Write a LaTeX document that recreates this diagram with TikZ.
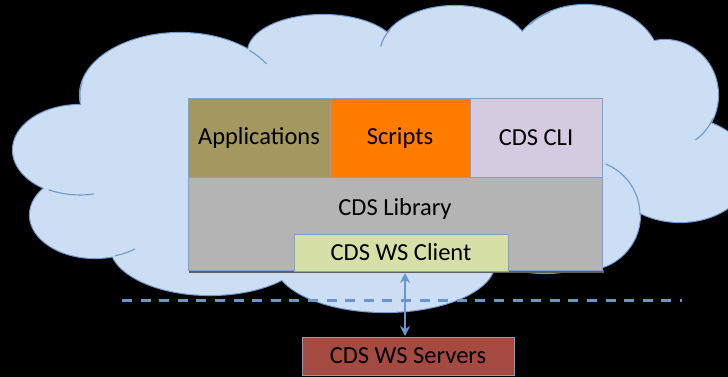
\documentclass[tikz,border=0pt]{standalone}
\usepackage{fontspec}
\setmainfont{Carlito}
\usetikzlibrary{arrows.meta,calc}
\definecolor{cloudfill}{RGB}{204,222,243}
\definecolor{cloudline}{RGB}{112,152,204}
\definecolor{boxline}{RGB}{125,160,205}
\definecolor{appcol}{RGB}{163,152,96}
\definecolor{scrcol}{RGB}{255,124,0}
\definecolor{clicol}{RGB}{213,203,225}
\definecolor{libcol}{RGB}{180,180,180}
\definecolor{wscol}{RGB}{214,223,166}
\definecolor{srvcol}{RGB}{164,74,64}
\definecolor{dashcol}{RGB}{105,150,210}
\definecolor{shadowcol}{RGB}{95,95,100}
\begin{document}
\begin{tikzpicture}[x=1pt,y=-1pt,
  box/.style={draw=boxline, line width=1pt, rectangle, inner sep=0pt, text=black, font=\fontsize{24.5}{28}\selectfont},
  link/.style={draw=dashcol, line width=2pt, {Stealth[length=10pt,width=10pt]}-{Stealth[length=10pt,width=10pt]}},
  innerarc/.style={draw=cloudline, line width=1.1pt}]
\fill[black] (0,0) rectangle (728,377);
\useasboundingbox (0,0) rectangle (728,377);
\begin{scope}
\clip (0,0) rectangle (728,377);
\def\cloudlist{370/165/270/95, 180/95/100/62, 323/52/75/37, 455/53/75/47, 585/65/75/60, 665/95/53/55, 680/170/70/52, 585/215/55/55, 545/235/70/38, 385/262/110/50, 210/245/100/50, 80/150/67/45, 95/215/65/43}
\foreach \cx/\cy/\a/\b in \cloudlist
  \draw[cloudline, line width=2.2pt] (\cx,\cy) ellipse [x radius=\a pt, y radius=\b pt];
\foreach \cx/\cy/\a/\b in \cloudlist
  \fill[cloudfill] (\cx,\cy) ellipse [x radius=\a pt, y radius=\b pt];
% interior fillers
\fill[cloudfill] (520,110) ellipse [x radius=110pt, y radius=50pt];
\fill[cloudfill] (610,125) ellipse [x radius=45pt, y radius=45pt];
% inner arcs of the cloud
\foreach \cx/\cy/\a/\b/\s/\e in {180/95/100/62/46/30, 455/53/75/47/150/172, 585/65/75/60/118/138, 665/95/53/55/-25/-55, 180/95/100/62/168/185, 80/150/67/45/-118/-78, 95/215/65/43/-72/-52, 585/215/55/55/0/68, 385/262/110/50/178/140}
  \draw[innerarc] ($(\cx,\cy)+(\s:\a pt and \b pt)$) arc[start angle=\s, end angle=\e, x radius=\a pt, y radius=\b pt];
\end{scope}
\fill[shadowcol] (189,270) rectangle (604,273);
\node[box, fill=appcol, minimum width=142pt, minimum height=78pt] (app) at (259,138) {Applications};
\node[box, fill=scrcol, minimum width=140pt, minimum height=78pt] (scr) at (400,138) {Scripts};
\node[box, fill=clicol, minimum width=132pt, minimum height=78pt] (cli) at (536,138) {CDS CLI};
\node[box, fill=libcol, minimum width=414pt, minimum height=93pt] (lib) at (395,223.5) {};
\node[font=\fontsize{24.5}{28}\selectfont, inner sep=0pt] (libtext) at (395,209) {CDS Library};
\node[box, fill=wscol, minimum width=214pt, minimum height=37pt] (client) at (401,252.5) {CDS WS Client};
\node[box, fill=srvcol, minimum width=212pt, minimum height=38pt] (srv) at (408,356) {CDS WS Servers};
\coordinate (dl) at (122,300);
\coordinate (dr) at (682,300);
\draw[dashcol, line width=3pt, dash pattern=on 10pt off 8.6pt] (dl) -- (dr);
\coordinate (atop) at (405,273);
\coordinate (abot) at (405,336);
\draw[link] (atop) -- (abot);
\end{tikzpicture}
\end{document}
